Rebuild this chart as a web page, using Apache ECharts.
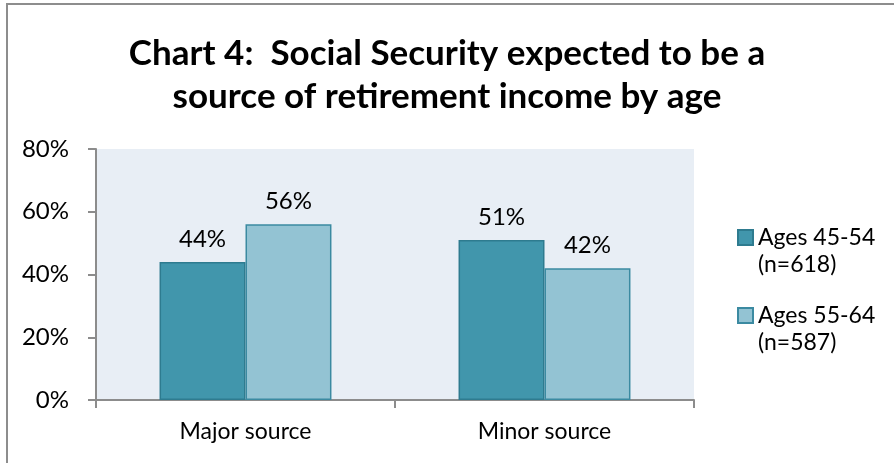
<!DOCTYPE html>
<html>
<head>
<meta charset="utf-8">
<script src="https://cdn.jsdelivr.net/npm/echarts@6/dist/echarts.min.js"></script>
<style>
  html, body { margin: 0; padding: 0; background: #fff; }
  #wrap { position: relative; width: 894px; height: 463px; overflow: hidden; }
  #chart { position: absolute; left: 0; top: 0; width: 894px; height: 463px; }
  #frame { position: absolute; left: 6px; top: 3px; width: 900px; height: 500px;
           border: 2px solid #8d8d8d; pointer-events: none; box-sizing: border-box; }
</style>
</head>
<body>
<div id="wrap">
  <div id="chart"></div>
  <div id="frame"></div>
</div>
<script>
// Share of respondents expecting Social Security to be a source of retirement income
const titleLines = ['Chart 4:  Social Security expected to be a', 'source of retirement income by age'];
const categories = ['Major source', 'Minor source'];
const seriesNames = ['Ages 45-54\n(n=618)', 'Ages 55-64\n(n=587)'];
const ages45to54 = [44, 51];
const ages55to64 = [56, 42];
const yTicks = { min: 0, max: 80, interval: 20 };

const FONT = 'Lato';
const darkFill = '#4196ac', darkEdge = '#2e7b8f';
const lightFill = '#93c3d3', lightEdge = '#3b8aa1';

// Legend swatch sits beside the first line of a two-line name:
// the square fills the top of a taller icon box, the trailing move-to keeps the box height.
const swatchIcon = 'path://M0,0L15,0L15,15L0,15Z M0,42';

const chart = echarts.init(document.getElementById('chart'), null, { renderer: 'canvas' });

const labelStyle = {
  show: true,
  position: 'top',
  distance: 11,
  formatter: p => p.value + '%',
  fontFamily: FONT,
  fontSize: 24,
  color: '#000'
};

chart.setOption({
  animation: false,
  backgroundColor: '#fff',
  title: {
    text: titleLines.join('\n'),
    left: 'center',
    top: 32,
    padding: [0, 5, 0, 5],
    textStyle: {
      fontFamily: FONT,
      fontWeight: 'bold',
      fontSize: 35,
      lineHeight: 43,
      color: '#000'
    }
  },
  legend: {
    orient: 'vertical',
    left: 737,
    top: 224,
    padding: 0,
    itemGap: 24,
    itemWidth: 15,
    itemHeight: 42,
    icon: swatchIcon,
    textStyle: {
      fontFamily: FONT,
      fontSize: 23,
      color: '#000',
      lineHeight: 27
    },
    data: seriesNames
  },
  grid: {
    left: 96,
    right: 200,
    top: 149,
    bottom: 63,
    show: true,
    backgroundColor: '#e8eef5',
    borderWidth: 0,
    containLabel: false
  },
  xAxis: {
    type: 'category',
    data: categories,
    axisLine: { show: true, lineStyle: { color: '#8c8c8c', width: 2 } },
    axisTick: { show: true, alignWithLabel: false, length: 8, lineStyle: { color: '#8c8c8c', width: 2 } },
    axisLabel: { fontFamily: FONT, fontSize: 23, color: '#000', margin: 20 },
    splitLine: { show: false }
  },
  yAxis: {
    type: 'value',
    min: yTicks.min,
    max: yTicks.max,
    interval: yTicks.interval,
    axisLine: { show: true, lineStyle: { color: '#8c8c8c', width: 2 } },
    axisTick: { show: true, inside: false, length: 8, lineStyle: { color: '#8c8c8c', width: 2 } },
    axisLabel: { fontFamily: FONT, fontSize: 24, color: '#000', margin: 27, formatter: '{value}%' },
    splitLine: { show: false }
  },
  series: [
    {
      name: seriesNames[0],
      type: 'bar',
      data: ages45to54,
      barGap: '0%',
      barCategoryGap: '42.5%',
      itemStyle: { color: darkFill, borderColor: darkEdge, borderWidth: 1.5 },
      label: labelStyle
    },
    {
      name: seriesNames[1],
      type: 'bar',
      data: ages55to64,
      barGap: '0%',
      barCategoryGap: '42.5%',
      itemStyle: { color: lightFill, borderColor: lightEdge, borderWidth: 1.5 },
      label: labelStyle
    }
  ]
});
</script>
</body>
</html>
